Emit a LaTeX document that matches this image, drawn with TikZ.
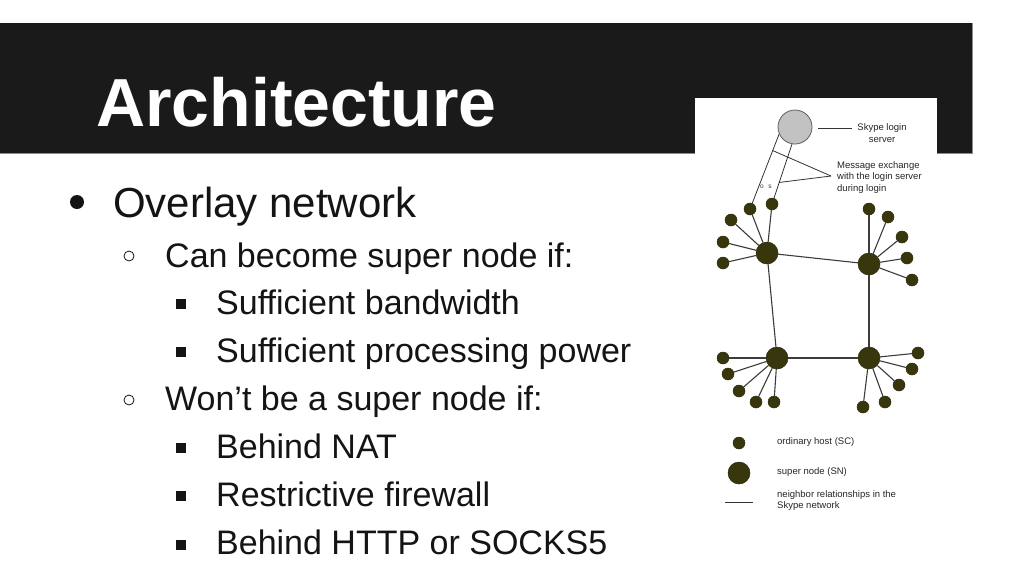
\documentclass[tikz,border=0pt]{standalone}
\usepackage{fontspec}
\setmainfont{Liberation Sans}
\usetikzlibrary{calc}
\definecolor{band}{RGB}{26,26,26}
\definecolor{hostc}{RGB}{56,54,12}
\definecolor{edgec}{RGB}{60,60,60}
\definecolor{srvfill}{RGB}{194,194,194}
\definecolor{srvdraw}{RGB}{95,95,95}
\definecolor{bodytxt}{RGB}{20,20,20}
\begin{document}
\begin{tikzpicture}[x=1pt,y=-1pt,
  host/.style={circle,fill=hostc,draw=hostc!80!black,line width=0.5pt,minimum size=12pt,inner sep=0pt},
  snode/.style={circle,fill=hostc,draw=hostc!80!black,line width=0.5pt,minimum size=22pt,inner sep=0pt},
  link/.style={draw=edgec,line width=1.1pt},
  thin link/.style={draw=black!80,line width=0.8pt},
  lvlone/.style={anchor=base west,inner sep=0pt,text=bodytxt,font=\fontsize{42}{48}\selectfont},
  lvltwo/.style={anchor=base west,inner sep=0pt,text=bodytxt,font=\fontsize{34}{40}\selectfont},
  small/.style={inner sep=0pt,font=\fontsize{9.5}{11.5}\selectfont,text=black!85},
  tiny mark/.style={inner sep=0pt,font=\fontsize{6.5}{6.5}\selectfont,text=black!80},
  bul/.style={circle,fill=bodytxt,inner sep=0pt,minimum size=14pt},
  obul/.style={circle,draw=bodytxt,line width=0.8pt,inner sep=0pt,minimum size=10pt},
  sbul/.style={rectangle,fill=bodytxt,inner sep=0pt,minimum size=10pt}
]
\useasboundingbox (0,0) rectangle (1024,576);
\fill[white] (0,0) rectangle (1024,576);
% title band
\fill[band] (0,23) rectangle (972,153);
\draw[black!45,line width=0.6pt] (0,153.3) -- (972.3,153.3) -- (972.3,23);
\node[anchor=base west,inner sep=0pt,text=white,font=\bfseries\fontsize{68}{80}\selectfont] (title) at (96,126) {Architecture};

% bullets
\node[bul] (b1) at (77,202) {};
\node[lvlone] (t1) at (113,217) {Overlay network};
\node[obul] (b2) at (129,256) {};
\node[lvltwo] (t2) at (165,267) {Can become super node if:};
\node[sbul] (b3) at (181,304) {};
\node[lvltwo] (t3) at (216,314) {Sufficient bandwidth};
\node[sbul] (b4) at (181,352) {};
\node[lvltwo] (t4) at (216,362) {Sufficient processing power};
\node[obul] (b5) at (129,400) {};
\node[lvltwo] (t5) at (165,410) {Won’t be a super node if:};
\node[sbul] (b6) at (181,448) {};
\node[lvltwo] (t6) at (216,458) {Behind NAT};
\node[sbul] (b7) at (181,496) {};
\node[lvltwo] (t7) at (216,506) {Restrictive firewall};
\node[sbul] (b8) at (181,545) {};
\node[lvltwo] (t8) at (216,554) {Behind HTTP or SOCKS5};

% diagram background
\fill[white] (695,98) rectangle (937,576);

% login server
\node[circle,fill=srvfill,draw=srvdraw,line width=0.8pt,minimum size=34pt,inner sep=0pt] (srv) at (795,127) {};
\coordinate (s1) at (818,128);
\coordinate (s2) at (852,128);
\draw[thin link] (s1) -- (s2);
\node[small,align=center] (lsrv) at (882,133) {Skype login\\server};

% super nodes
\node[snode] (tl) at (767,253) {};
\node[snode] (tr) at (869,264) {};
\node[snode] (bl) at (777,358) {};
\node[snode] (br) at (869,358) {};

% hosts
\foreach \n/\p in {tl1/{(750,209)},tl2/{(772,204)},tl3/{(731,220)},tl4/{(723,242)},tl5/{(723,263)},
  tr1/{(869,209)},tr2/{(888,217)},tr3/{(902,237)},tr4/{(907,258)},tr5/{(912,280)},
  bl1/{(723,358)},bl2/{(728,374)},bl3/{(739,391)},bl4/{(756,402)},bl5/{(774,402)},
  br1/{(918,353)},br2/{(912,369)},br3/{(899,385)},br4/{(885,402)},br5/{(863,407)}}
  \node[host] (\n) at \p {};

% edges
\foreach \s in {tl,tr,bl,br}
  \foreach \i in {1,...,5}
    \draw[link] (\s) -- (\s\i);
\draw[link] (tl) -- (tr);
\draw[link] (tl) -- (bl);
\draw[link] (tr) -- (br);
\draw[link,line width=1.4pt] (bl) -- (br);

% login links
\draw[thin link] (srv.204) -- (tl1);
\draw[thin link] (srv.260) -- (tl2);
\coordinate (mtip) at (831,176);
\draw[thin link] (mtip) -- ($(srv.204)!0.22!(tl1)$);
\draw[thin link] (mtip) -- ($(srv.260)!0.64!(tl2)$);
\node[tiny mark] (q1) at (762,187) {o};
\node[tiny mark] (q2) at (770,187) {s};
\node[small,anchor=north west,align=left] (lmsg) at (837,161) {Message exchange\\with the login server\\during login};

% legend
\node[host] (lh) at (739,443) {};
\node[snode] (ls) at (739,473) {};
\coordinate (l1) at (725,502);
\coordinate (l2) at (753,502);
\draw[thin link] (l1) -- (l2);
\node[small,anchor=west] (lth) at (777,442) {ordinary host (SC)};
\node[small,anchor=west] (lts) at (777,472) {super node (SN)};
\node[small,anchor=north west,align=left] (ltl) at (777,490) {neighbor relationships in the\\Skype network};
\end{tikzpicture}
\end{document}
